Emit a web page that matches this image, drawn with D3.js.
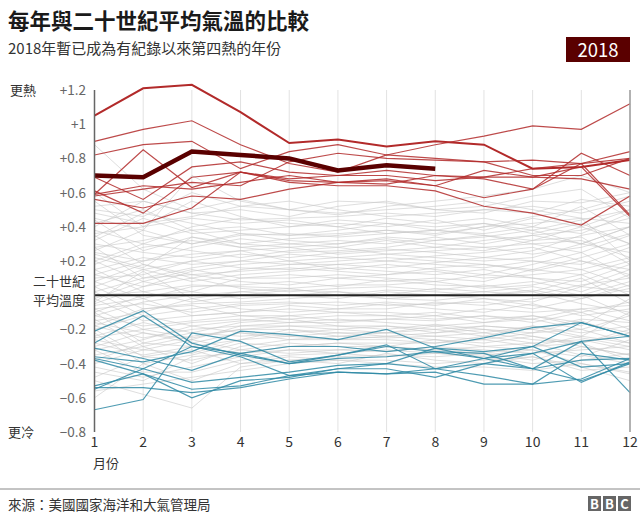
<!DOCTYPE html>
<html><head><meta charset="utf-8">
<script src="https://cdn.jsdelivr.net/npm/d3@7"></script>
<style>
body{margin:0;background:#fff;}
svg{display:block;}
text{font-family:"Noto Sans CJK TC","Noto Sans",sans-serif;}
</style></head>
<body><svg id="c" width="640" height="516"></svg>
<script>
const months = [1,2,3,4,5,6,7,8,9,10,11,12];
const yTicks = [1.2,1,0.8,0.6,0.4,0.2,-0.2,-0.4,-0.6,-0.8];
const title = "每年與二十世紀平均氣溫的比較";
const subtitle = "2018年暫已成為有紀錄以來第四熱的年份";
const source = "來源：美國國家海洋和大氣管理局";

const year2018 = [0.70,0.69,0.84,0.82,0.80,0.73,0.76,0.74];
const year2016 = [1.05,1.21,1.23,1.07,0.89,0.91,0.87,0.90,0.88,0.74,0.75,0.79];

const hotYears = [
 [0.90,0.97,1.02,0.88,0.77,0.72,0.82,0.80,0.78,0.79,0.77,0.80],
 [0.82,0.88,0.90,0.74,0.84,0.88,0.82,0.88,0.93,0.99,0.97,1.12],
 [0.59,0.85,0.63,0.72,0.68,0.70,0.70,0.67,0.69,0.69,0.75,0.46],
 [0.69,0.56,0.75,0.78,0.72,0.70,0.73,0.70,0.68,0.62,0.83,0.70],
 [0.61,0.48,0.69,0.72,0.67,0.66,0.68,0.64,0.73,0.69,0.68,0.62],
 [0.59,0.64,0.62,0.66,0.70,0.66,0.65,0.70,0.69,0.74,0.77,0.84],
 [0.56,0.51,0.58,0.56,0.62,0.66,0.67,0.64,0.57,0.62,0.77,0.47],
 [0.42,0.42,0.51,0.72,0.66,0.64,0.64,0.61,0.52,0.48,0.41,0.58],
 [0.58,0.62,0.66,0.64,0.78,0.83,0.80,0.79,0.78,0.70,0.70,0.80]
];

const coldYears = [
 [-0.21,-0.09,-0.28,-0.35,-0.40,-0.35,-0.30,-0.33,-0.37,-0.43,-0.38,-0.37],
 [-0.28,-0.12,-0.30,-0.36,-0.47,-0.43,-0.40,-0.31,-0.33,-0.30,-0.16,-0.24],
 [-0.67,-0.61,-0.22,-0.27,-0.39,-0.35,-0.29,-0.43,-0.40,-0.34,-0.27,-0.24],
 [-0.31,-0.37,-0.44,-0.34,-0.30,-0.30,-0.33,-0.30,-0.25,-0.19,-0.16,-0.24],
 [-0.36,-0.39,-0.33,-0.21,-0.23,-0.26,-0.20,-0.31,-0.37,-0.30,-0.42,-0.40],
 [-0.37,-0.43,-0.51,-0.48,-0.45,-0.41,-0.40,-0.43,-0.47,-0.52,-0.49,-0.37],
 [-0.38,-0.46,-0.60,-0.50,-0.48,-0.43,-0.43,-0.48,-0.40,-0.43,-0.50,-0.40],
 [-0.53,-0.46,-0.55,-0.53,-0.47,-0.45,-0.46,-0.45,-0.52,-0.52,-0.34,-0.38],
 [-0.54,-0.54,-0.57,-0.54,-0.49,-0.45,-0.46,-0.43,-0.37,-0.34,-0.51,-0.39],
 [-0.55,-0.43,-0.30,-0.34,-0.40,-0.37,-0.36,-0.33,-0.34,-0.43,-0.27,-0.57]
];

const otherYears = [
 [0.52,0.55,0.48,0.50,0.46,0.52,0.55,0.50,0.52,0.58,0.62,0.45],
 [0.88,0.62,0.50,0.56,0.50,0.47,0.52,0.55,0.58,0.62,0.70,0.60],
 [0.48,0.42,0.46,0.52,0.50,0.55,0.54,0.50,0.48,0.55,0.54,0.60],
 [0.45,0.38,0.70,0.55,0.50,0.48,0.50,0.52,0.55,0.50,0.45,0.42],
 [0.40,0.55,0.48,0.44,0.45,0.46,0.48,0.46,0.50,0.52,0.48,0.55],
 [0.38,0.30,0.40,0.45,0.42,0.40,0.45,0.42,0.45,0.40,0.52,0.35],
 [0.32,0.45,0.36,0.38,0.40,0.42,0.40,0.44,0.38,0.45,0.40,0.50],
 [0.55,0.35,0.30,0.36,0.35,0.38,0.42,0.40,0.42,0.38,0.30,0.40],
 [0.28,0.32,0.38,0.30,0.33,0.35,0.38,0.36,0.40,0.42,0.45,0.20],
 [0.25,0.20,0.28,0.33,0.30,0.32,0.30,0.34,0.30,0.35,0.38,0.45],
 [0.30,0.25,0.22,0.26,0.28,0.30,0.33,0.30,0.28,0.30,0.25,0.35],
 [0.18,0.28,0.32,0.28,0.25,0.26,0.28,0.32,0.35,0.30,0.32,0.22],
 [0.22,0.15,0.20,0.24,0.22,0.25,0.27,0.25,0.22,0.26,0.35,0.40],
 [0.15,0.22,0.18,0.20,0.24,0.22,0.20,0.23,0.25,0.28,0.20,0.15],
 [0.35,0.18,0.10,0.15,0.18,0.20,0.22,0.20,0.18,0.15,0.22,0.30],
 [0.10,0.12,0.20,0.16,0.15,0.18,0.16,0.19,0.22,0.20,0.18,0.28],
 [0.12,0.05,0.14,0.18,0.20,0.15,0.18,0.15,0.12,0.18,0.25,0.10],
 [0.05,0.15,0.08,0.12,0.14,0.16,0.14,0.12,0.15,0.10,0.08,0.18],
 [0.20,0.08,0.02,0.10,0.12,0.10,0.12,0.14,0.10,0.12,0.15,0.05],
 [0.02,0.10,0.12,0.08,0.06,0.10,0.08,0.10,0.08,0.15,0.12,0.20],
 [0.08,-0.02,0.05,0.06,0.08,0.05,0.09,0.06,0.05,0.08,0.02,0.12],
 [-0.05,0.05,0.10,0.04,0.02,0.04,0.05,0.03,0.06,0.02,0.10,-0.05],
 [0.00,0.02,-0.04,0.00,0.03,0.02,0.00,0.04,0.02,0.05,0.00,0.08],
 [-0.10,0.00,0.02,-0.02,0.00,-0.02,0.02,0.00,-0.02,-0.04,0.05,0.02],
 [0.05,-0.08,-0.05,-0.04,-0.02,0.00,-0.02,-0.03,0.00,0.02,-0.05,-0.10],
 [-0.08,-0.05,-0.10,-0.06,-0.05,-0.04,-0.06,-0.05,-0.04,-0.08,-0.02,0.04],
 [-0.15,-0.10,-0.02,-0.08,-0.10,-0.08,-0.05,-0.08,-0.10,-0.05,-0.12,-0.08],
 [-0.02,-0.15,-0.12,-0.10,-0.08,-0.10,-0.10,-0.12,-0.08,-0.10,-0.08,-0.15],
 [-0.12,-0.18,-0.15,-0.12,-0.14,-0.12,-0.12,-0.10,-0.14,-0.12,-0.18,-0.02],
 [-0.20,-0.12,-0.18,-0.15,-0.12,-0.15,-0.14,-0.15,-0.12,-0.16,-0.10,-0.20],
 [-0.18,-0.25,-0.20,-0.18,-0.16,-0.14,-0.16,-0.18,-0.16,-0.14,-0.20,-0.12],
 [-0.25,-0.20,-0.25,-0.20,-0.18,-0.18,-0.20,-0.17,-0.20,-0.22,-0.15,-0.25],
 [-0.10,-0.28,-0.22,-0.24,-0.22,-0.20,-0.18,-0.22,-0.18,-0.20,-0.25,-0.30],
 [-0.30,-0.22,-0.28,-0.22,-0.24,-0.22,-0.22,-0.20,-0.24,-0.18,-0.22,-0.18],
 [-0.28,-0.35,-0.30,-0.26,-0.20,-0.24,-0.25,-0.24,-0.22,-0.26,-0.28,-0.22],
 [-0.35,-0.30,-0.40,-0.30,-0.26,-0.26,-0.24,-0.26,-0.28,-0.24,-0.30,-0.35],
 [-0.22,-0.40,-0.35,-0.28,-0.30,-0.28,-0.28,-0.28,-0.26,-0.30,-0.24,-0.28],
 [-0.40,-0.32,-0.26,-0.32,-0.28,-0.30,-0.30,-0.32,-0.30,-0.28,-0.35,-0.40],
 [-0.45,-0.50,-0.36,-0.34,-0.32,-0.32,-0.33,-0.30,-0.32,-0.34,-0.32,-0.30],
 [-0.32,-0.45,-0.45,-0.38,-0.35,-0.34,-0.32,-0.34,-0.35,-0.32,-0.40,-0.45],
 [-0.50,-0.58,-0.66,-0.42,-0.38,-0.36,-0.35,-0.36,-0.34,-0.38,-0.30,-0.35],
 [-0.60,-0.40,-0.50,-0.40,-0.36,-0.38,-0.38,-0.40,-0.38,-0.36,-0.42,-0.50],
 [0.42,0.50,0.38,0.40,0.35,0.36,0.38,0.35,0.40,0.46,0.50,0.58],
 [0.60,0.40,0.45,0.42,0.44,0.40,0.36,0.38,0.35,0.32,0.40,0.30],
 [0.36,0.40,0.55,0.46,0.40,0.44,0.42,0.38,0.36,0.40,0.36,0.48],
 [0.26,0.38,0.30,0.35,0.36,0.34,0.36,0.38,0.42,0.36,0.42,0.30],
 [0.44,0.26,0.34,0.28,0.30,0.28,0.32,0.28,0.32,0.35,0.30,0.40],
 [0.20,0.30,0.26,0.22,0.26,0.28,0.24,0.26,0.28,0.24,0.28,0.36],
 [0.12,0.20,0.24,0.26,0.20,0.22,0.24,0.22,0.20,0.22,0.30,0.25],
 [0.28,0.10,0.16,0.20,0.18,0.18,0.20,0.18,0.16,0.20,0.15,0.22],
 [0.08,0.18,0.12,0.14,0.16,0.14,0.12,0.16,0.18,0.14,0.20,0.12],
 [-0.02,0.08,0.15,0.10,0.10,0.12,0.10,0.08,0.12,0.10,0.05,0.15],
 [0.15,0.02,0.06,0.05,0.04,0.06,0.06,0.08,0.04,0.06,0.12,0.00],
 [-0.12,-0.04,0.00,0.02,0.04,0.00,0.03,0.02,0.00,0.03,-0.02,0.06],
 [0.02,-0.12,-0.08,-0.05,-0.04,-0.06,-0.04,-0.06,-0.02,-0.06,-0.10,-0.04],
 [-0.06,-0.02,-0.12,-0.10,-0.06,-0.08,-0.08,-0.04,-0.06,-0.02,0.00,-0.12],
 [-0.18,-0.08,-0.06,-0.12,-0.12,-0.10,-0.12,-0.14,-0.12,-0.14,-0.08,-0.06],
 [-0.08,-0.20,-0.16,-0.14,-0.16,-0.16,-0.14,-0.12,-0.16,-0.12,-0.16,-0.22],
 [-0.24,-0.16,-0.22,-0.16,-0.14,-0.18,-0.18,-0.20,-0.18,-0.20,-0.14,-0.16],
 [-0.14,-0.30,-0.24,-0.20,-0.20,-0.22,-0.24,-0.22,-0.20,-0.24,-0.28,-0.20],
 [-0.32,-0.26,-0.18,-0.22,-0.26,-0.24,-0.22,-0.24,-0.26,-0.22,-0.20,-0.28],
 [-0.26,-0.32,-0.34,-0.26,-0.24,-0.26,-0.26,-0.28,-0.24,-0.28,-0.26,-0.32],
 [-0.38,-0.28,-0.30,-0.34,-0.30,-0.28,-0.30,-0.26,-0.30,-0.32,-0.36,-0.26],
 [-0.20,-0.36,-0.38,-0.32,-0.34,-0.32,-0.30,-0.32,-0.34,-0.30,-0.28,-0.38],
 [-0.42,-0.48,-0.42,-0.36,-0.32,-0.34,-0.36,-0.34,-0.36,-0.40,-0.38,-0.34],
 [-0.48,-0.36,-0.32,-0.40,-0.38,-0.40,-0.34,-0.38,-0.40,-0.36,-0.44,-0.42],
 [-0.56,-0.52,-0.48,-0.44,-0.40,-0.38,-0.40,-0.42,-0.42,-0.44,-0.40,-0.46],
 [0.50,0.46,0.60,0.52,0.55,0.50,0.46,0.48,0.50,0.48,0.56,0.52],
 [0.34,0.48,0.42,0.36,0.32,0.30,0.34,0.32,0.34,0.38,0.44,0.50],
 [0.24,0.16,0.34,0.30,0.28,0.24,0.26,0.28,0.26,0.32,0.34,0.18],
 [-0.04,0.14,-0.02,0.02,0.00,0.02,-0.02,0.00,0.02,0.00,0.06,0.10],
 [-0.16,-0.22,-0.26,-0.18,-0.18,-0.20,-0.22,-0.18,-0.22,-0.18,-0.24,-0.10]
];

const svg = d3.select("#c");
const x = d3.scaleLinear().domain([1,12]).range([94.5,630]);
const y = d3.scaleLinear().domain([-0.8,1.2]).range([432,90]);
const line = d3.line().x((d,i)=>x(months[i])).y(d=>y(d));

// title block
svg.append("text").attr("x",8).attr("y",29).attr("font-size",21.5).attr("font-weight",700).attr("fill","#1a1a1a").text(title);
svg.append("text").attr("x",8).attr("y",54).attr("font-size",15).attr("fill","#333").text(subtitle);
svg.append("rect").attr("x",566).attr("y",37).attr("width",64).attr("height",25).attr("fill","#5a0000");
svg.append("text").attr("x",598).attr("y",57).attr("text-anchor","middle").attr("font-size",18.5).attr("fill","#fff")
  .attr("font-family","Roboto, sans-serif").text("2018");

// vertical grid lines
svg.append("g").selectAll("line").data(months.slice(1,11)).join("line")
  .attr("x1",d=>x(d)).attr("x2",d=>x(d)).attr("y1",y(1.2)).attr("y2",y(-0.8))
  .attr("stroke","#e2e2e2").attr("stroke-width",1);

// grey lines
svg.append("g").selectAll("path").data(otherYears).join("path")
  .attr("d",line).attr("fill","none").attr("stroke","#c8c8c8").attr("stroke-opacity",0.6).attr("stroke-width",1);

// zero line
svg.append("line").attr("x1",x(1)).attr("x2",x(12)).attr("y1",y(0)).attr("y2",y(0)).attr("stroke","#222").attr("stroke-width",2);

// cold lines
svg.append("g").selectAll("path").data(coldYears).join("path")
  .attr("d",line).attr("fill","none").attr("stroke","#2f8aa5").attr("stroke-opacity",0.85).attr("stroke-width",1.2);

// hot lines
svg.append("g").selectAll("path").data(hotYears).join("path")
  .attr("d",line).attr("fill","none").attr("stroke","#b22a2a").attr("stroke-opacity",0.85).attr("stroke-width",1.2);
svg.append("path").datum(year2016).attr("d",line).attr("fill","none").attr("stroke","#b22a2a").attr("stroke-width",2);

// 2018
svg.append("path").datum(year2018).attr("d",line).attr("fill","none").attr("stroke","#5a0000").attr("stroke-width",4.5);

// axes lines
svg.append("line").attr("x1",x(1)).attr("x2",x(1)).attr("y1",y(1.2)).attr("y2",y(-0.8)).attr("stroke","#666").attr("stroke-width",1.5);
svg.append("line").attr("x1",x(12)).attr("x2",x(12)).attr("y1",y(1.2)).attr("y2",y(-0.8)).attr("stroke","#999").attr("stroke-width",1.5);

// y tick labels
const fmt = d => (d>0?"+":"") + d3.format("~g")(d);
svg.append("g").selectAll("text").data(yTicks).join("text")
  .attr("x",86).attr("y",d=>y(d)+5).attr("text-anchor","end").attr("font-size",13.5)
  .attr("font-family","Lato, 'Noto Sans', sans-serif").attr("fill","#666").text(fmt);

// x tick labels
svg.append("g").selectAll("text").data(months).join("text")
  .attr("x",d=>x(d)).attr("y",447).attr("text-anchor","middle").attr("font-size",14)
  .attr("font-family","Lato, 'Noto Sans', sans-serif").attr("fill","#333").text(d=>d);

svg.append("text").attr("x",93).attr("y",468).attr("font-size",13).attr("fill","#333").text("月份");
svg.append("text").attr("x",10).attr("y",95).attr("font-size",13).attr("fill","#333").text("更熱");
svg.append("text").attr("x",8).attr("y",437).attr("font-size",13).attr("fill","#333").text("更冷");
svg.append("text").attr("x",85).attr("y",286).attr("text-anchor","end").attr("font-size",13).attr("fill","#333").text("二十世紀");
svg.append("text").attr("x",85).attr("y",305).attr("text-anchor","end").attr("font-size",13).attr("fill","#333").text("平均溫度");

// footer
svg.append("line").attr("x1",0).attr("x2",640).attr("y1",489).attr("y2",489).attr("stroke","#888").attr("stroke-width",1);
svg.append("text").attr("x",8).attr("y",510).attr("font-size",13.5).attr("fill","#333").text(source);
const bbc = ["B","B","C"];
const lg = svg.append("g");
lg.selectAll("rect").data(bbc).join("rect").attr("x",(d,i)=>588+i*15).attr("y",496).attr("width",13).attr("height",15).attr("fill","#666");
lg.selectAll("text").data(bbc).join("text").attr("x",(d,i)=>594.5+i*15).attr("y",508.5).attr("text-anchor","middle")
  .attr("font-size",13).attr("font-weight",700).attr("font-family","Roboto, sans-serif").attr("fill","#fff").text(d=>d);
</script></body></html>
